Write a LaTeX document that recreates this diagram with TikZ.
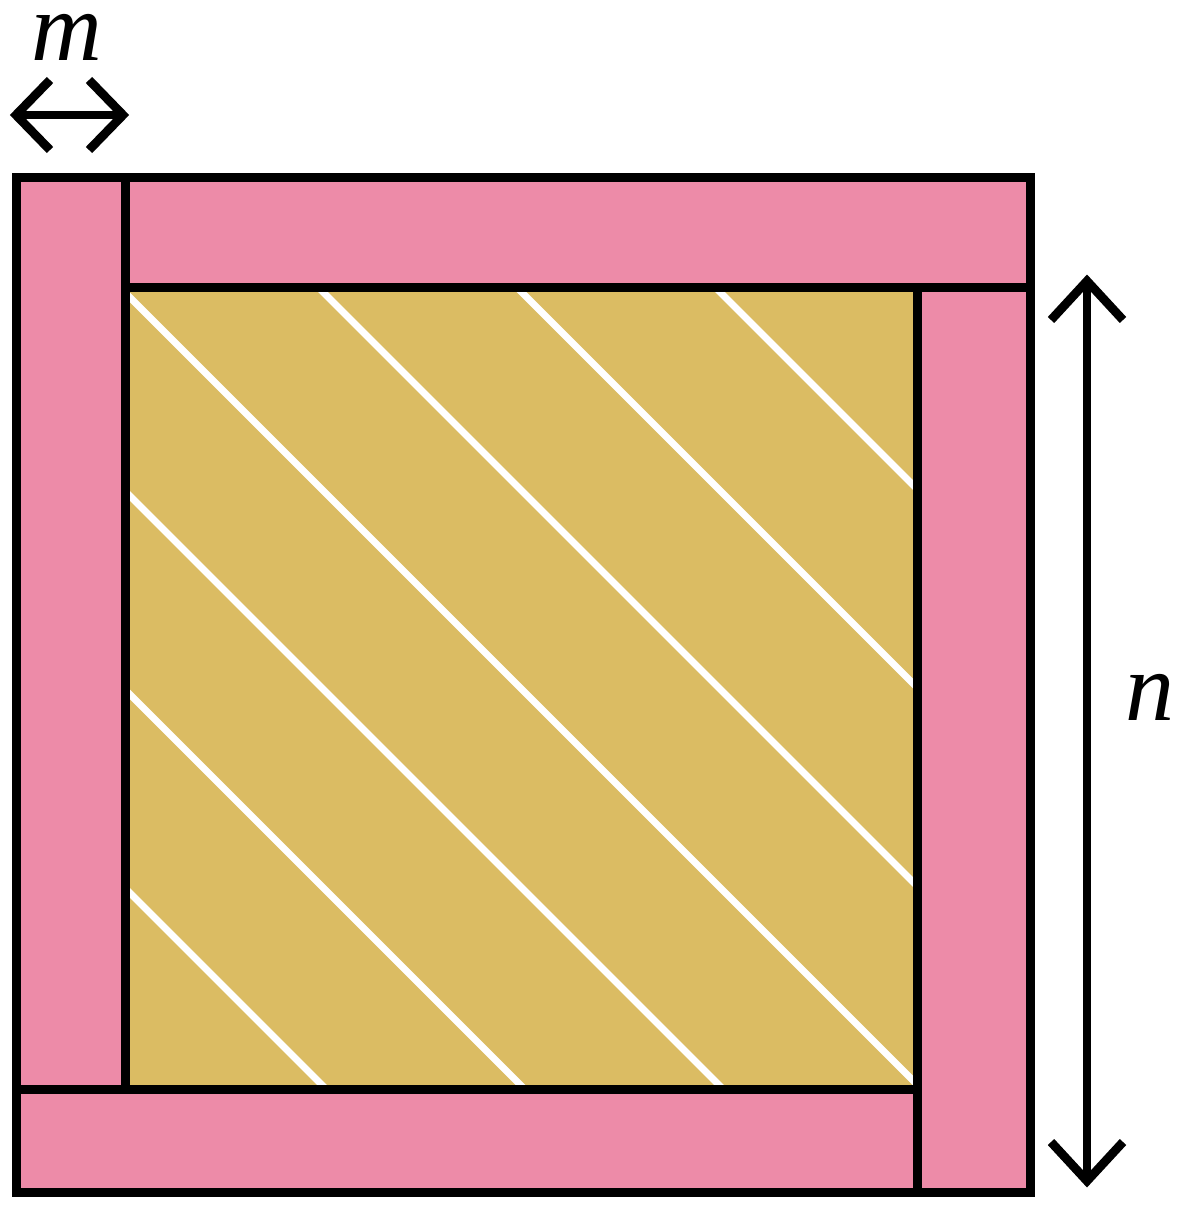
\documentclass[tikz,border=0pt]{standalone}
\usepackage{fontspec}
\setmainfont{Liberation Serif}
\definecolor{pinkfill}{RGB}{237,139,168}
\definecolor{goldfill}{RGB}{219,188,99}
\tikzset{
  strip/.style={draw=black, fill=pinkfill, line width=4.5pt, line join=miter},
  core/.style={fill=goldfill},
  stripe/.style={draw=white, line width=3.4pt},
  dim/.style={draw=black, line width=4.4pt, line join=miter},
  lbl/.style={font=\fontsize{49}{54}\selectfont\itshape, inner sep=0pt, anchor=base}
}
\begin{document}
\begin{tikzpicture}[x=0.5pt, y=-0.5pt]
\useasboundingbox (0,0) rectangle (1191,1209);
% core square
\fill[core] (125,287) rectangle (917,1089);
\begin{scope}
  \clip (125,287) rectangle (917,1089);
  \foreach \c in {-763,-564.5,-366,-167.5,31,229.5,428} {
    \draw[stripe] (\c+200,200) -- (\c+1200,1200);
  }
\end{scope}
% frame strips
\draw[strip] (16,178) rectangle (125,1089);
\draw[strip] (125,178) rectangle (1030,287);
\draw[strip] (917,287) rectangle (1030,1192);
\draw[strip] (16,1089) rectangle (917,1192);
\draw[draw=black, line width=4.5pt] (125,287) rectangle (917,1089);
% m dimension arrow
\coordinate (mL) at (16,115);
\coordinate (mR) at (123,115);
\draw[dim] (mL) -- (mR);
\draw[dim] (mL) ++(34,-35) -- (mL) -- ++(34,35);
\draw[dim] (mR) ++(-34,-35) -- (mR) -- ++(-34,35);
\node[lbl] (mlabel) at (67,61) {m};
% n dimension arrow
\coordinate (nT) at (1087,281);
\coordinate (nB) at (1087,1181);
\draw[dim] (nT) -- (nB);
\draw[dim] (nT) ++(-36,39) -- (nT) -- ++(36,39);
\draw[dim] (nB) ++(-36,-39) -- (nB) -- ++(36,-39);
\node[lbl] (nlabel) at (1150,720) {n};
\end{tikzpicture}
\end{document}
